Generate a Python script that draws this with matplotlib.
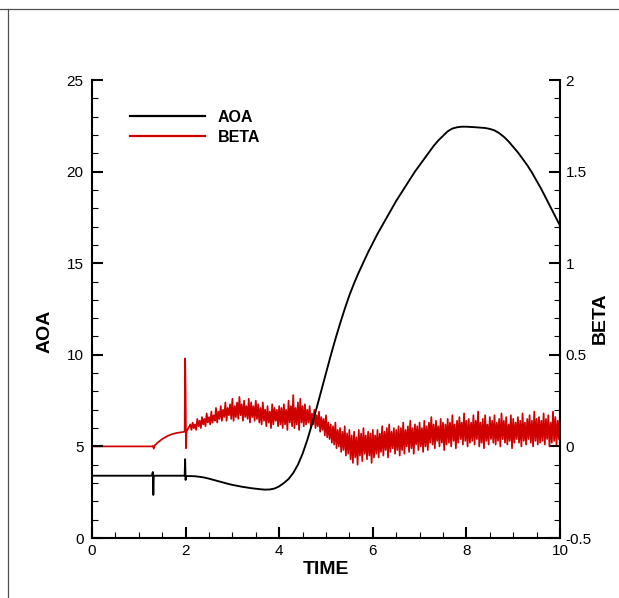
import matplotlib
matplotlib.use("Agg")
import matplotlib.pyplot as plt
from matplotlib.lines import Line2D
from matplotlib.ticker import MultipleLocator

plt.rcParams['font.family'] = ['Liberation Sans', 'DejaVu Sans']

# ---- AOA (left axis) ----
aoa_t = [0.0, 1.28, 1.30, 1.31, 1.32, 1.98, 1.99, 2.00, 2.01,
         2.1, 2.2, 2.3, 2.4, 2.5, 2.6, 2.7, 2.8, 2.9, 3.0,
         3.1, 3.2, 3.3, 3.4, 3.5, 3.6, 3.7, 3.8, 3.9, 4.0,
         4.1, 4.2, 4.3, 4.4, 4.5, 4.6, 4.7, 4.8, 4.9, 5.0,
         5.1, 5.2, 5.3, 5.4, 5.5, 5.6, 5.7, 5.8, 5.9, 6.0,
         6.1, 6.2, 6.3, 6.4, 6.5, 6.6, 6.7, 6.8, 6.9, 7.0,
         7.1, 7.2, 7.3, 7.4, 7.5, 7.6, 7.7, 7.8, 7.9, 8.0,
         8.2, 8.4, 8.5, 8.6, 8.7, 8.8, 8.9, 9.0,
         9.1, 9.2, 9.3, 9.4, 9.5, 9.6, 9.7, 9.8, 9.9, 10.0]
aoa_v = [3.40, 3.40, 3.60, 2.35, 3.40, 3.40, 4.30, 3.17, 3.38,
         3.38, 3.37, 3.34, 3.30, 3.24, 3.17, 3.10, 3.03, 2.96, 2.90,
         2.85, 2.80, 2.76, 2.72, 2.69, 2.66, 2.64, 2.65, 2.70, 2.82,
         3.00, 3.22, 3.55, 4.00, 4.60, 5.35, 6.20, 7.10, 8.05, 9.00,
         9.95, 10.85, 11.70, 12.50, 13.25, 13.90, 14.50, 15.05, 15.60, 16.10,
         16.60, 17.05, 17.50, 17.95, 18.40, 18.80, 19.20, 19.60, 20.00, 20.35,
         20.70, 21.05, 21.40, 21.70, 21.95, 22.20, 22.35, 22.42, 22.45, 22.45,
         22.42, 22.38, 22.33, 22.25, 22.10, 21.90, 21.65, 21.35,
         21.05, 20.70, 20.35, 19.95, 19.50, 19.05, 18.55, 18.05, 17.55, 17.05]

# ---- BETA (right axis): smooth start, then oscillating part ----
beta_t0 = [0.0, 1.28, 1.30, 1.32, 1.34, 1.40, 1.50, 1.60, 1.70, 1.80, 1.90, 1.98, 1.99,
           2.00, 2.01, 2.02, 2.06]
beta_v0 = [0.0, 0.0, 0.003, -0.012, 0.005, 0.02, 0.04, 0.055, 0.066, 0.073, 0.077, 0.080, 0.48,
           0.30, -0.01, 0.08, 0.10]

# peaks at t = 2.10, 2.15, ..., 10.05 ; each trough half a step later
beta_peaks = [0.12, 0.13, 0.12, 0.15, 0.14, 0.16, 0.15, 0.18, 0.16, 0.19,
              0.17, 0.21, 0.19, 0.22, 0.20, 0.24, 0.21, 0.23, 0.26, 0.22,
              0.24, 0.27, 0.23, 0.25, 0.22, 0.26, 0.24, 0.22, 0.25, 0.23,
              0.21, 0.24, 0.20, 0.22, 0.19, 0.23, 0.21, 0.20, 0.22, 0.21,
              0.23, 0.20, 0.25, 0.22, 0.28, 0.21, 0.24, 0.26, 0.22, 0.23,
              0.20, 0.22, 0.18, 0.20, 0.17, 0.19, 0.16, 0.15, 0.17, 0.13,
              0.12, 0.11, 0.13, 0.09, 0.10, 0.08, 0.11, 0.07, 0.09, 0.06,
              0.08, 0.05, 0.09, 0.07, 0.10, 0.06, 0.08, 0.07, 0.09, 0.06,
              0.09, 0.07, 0.11, 0.08, 0.10, 0.12, 0.08, 0.10, 0.09, 0.11,
              0.10, 0.13, 0.09, 0.11, 0.14, 0.10, 0.12, 0.11, 0.13, 0.10,
              0.14, 0.11, 0.13, 0.16, 0.12, 0.14, 0.11, 0.15, 0.13, 0.12,
              0.15, 0.13, 0.17, 0.12, 0.14, 0.16, 0.13, 0.18, 0.14, 0.15,
              0.13, 0.17, 0.14, 0.19, 0.13, 0.15, 0.17, 0.12, 0.16, 0.14,
              0.17, 0.13, 0.15, 0.18, 0.14, 0.16, 0.12, 0.17, 0.15, 0.13,
              0.16, 0.14, 0.18, 0.13, 0.15, 0.17, 0.14, 0.19, 0.15, 0.16,
              0.14, 0.18, 0.15, 0.17, 0.13, 0.19, 0.16, 0.14, 0.18, 0.15]
beta_troughs = [0.09, 0.10, 0.09, 0.11, 0.10, 0.12, 0.11, 0.13, 0.12, 0.13,
                0.14, 0.13, 0.15, 0.14, 0.16, 0.14, 0.17, 0.15, 0.14, 0.16,
                0.15, 0.17, 0.14, 0.16, 0.15, 0.13, 0.16, 0.14, 0.15, 0.13,
                0.12, 0.14, 0.11, 0.13, 0.10, 0.12, 0.14, 0.11, 0.12, 0.10,
                0.12, 0.09, 0.13, 0.11, 0.10, 0.12, 0.09, 0.13, 0.11, 0.12,
                0.13, 0.11, 0.12, 0.10, 0.11, 0.08, 0.09, 0.06, 0.05, 0.04,
                0.02, 0.01, -0.01, 0.00, -0.03, -0.02, -0.05, -0.04, -0.07, -0.09,
                -0.06, -0.10, -0.05, -0.08, -0.04, -0.07, -0.05, -0.09, -0.06, -0.04,
                -0.06, -0.03, -0.05, -0.02, -0.06, -0.03, -0.01, -0.04, -0.02, -0.05,
                -0.02, -0.04, 0.00, -0.03, -0.01, -0.04, 0.01, -0.02, 0.00, -0.03,
                0.00, -0.02, 0.02, 0.01, -0.01, 0.03, 0.00, 0.02, -0.02, 0.01,
                0.02, 0.00, 0.03, -0.01, 0.02, 0.04, 0.01, 0.03, 0.00, 0.02,
                0.03, 0.01, 0.04, 0.00, 0.02, -0.01, 0.03, 0.01, 0.04, 0.02,
                0.01, 0.03, 0.00, 0.04, 0.02, 0.01, 0.03, -0.01, 0.02, 0.04,
                0.02, 0.00, 0.03, 0.01, 0.04, 0.02, 0.00, 0.03, 0.01, 0.02,
                0.03, 0.01, 0.04, 0.00, 0.02, 0.03, 0.01, 0.04, 0.02, 0.03]
osc_start = 2.10
osc_step = 0.05

x_ticks = [0, 2, 4, 6, 8, 10]
aoa_ticks = [0, 5, 10, 15, 20, 25]
beta_ticks = [-0.5, 0, 0.5, 1, 1.5, 2]
beta_ticklabels = ['-0.5', '0', '0.5', '1', '1.5', '2']

# build the oscillating series from the peak/trough lists
osc_t, osc_v = [], []
for k, (p, q) in enumerate(zip(beta_peaks, beta_troughs)):
    tk = osc_start + k * osc_step
    osc_t += [tk, tk + osc_step / 2]
    osc_v += [p, q]
beta_t = beta_t0 + osc_t
beta_v = beta_v0 + osc_v

W, H = 619, 598
fig = plt.figure(figsize=(W / 100, H / 100), dpi=100)
ax = fig.add_axes([92 / W, 1 - 538 / H, (560 - 92) / W, (538 - 80) / H])
ax2 = ax.twinx()
ax.set_zorder(ax2.get_zorder() + 1)
ax.patch.set_visible(False)

red = '#d00000'
l2, = ax2.plot(beta_t, beta_v, color=red, lw=1.25, label='BETA')
l1, = ax.plot(aoa_t, aoa_v, color='black', lw=1.35, label='AOA')

ax.set_xlim(0, 10)
ax.set_ylim(0, 25)
ax2.set_ylim(-0.5, 2)

for s in ['top', 'right']:
    ax.spines[s].set_visible(False)
for s in ['top', 'left', 'bottom']:
    ax2.spines[s].set_visible(False)
ax.spines['left'].set_linewidth(1.5)
ax.spines['bottom'].set_linewidth(1.5)
ax2.spines['right'].set_linewidth(1.5)

ax.set_xticks(x_ticks)
ax.set_xticklabels([str(v) for v in x_ticks])
ax.xaxis.set_minor_locator(MultipleLocator(0.5))
ax.set_yticks(aoa_ticks)
ax.set_yticklabels([str(v) for v in aoa_ticks])
ax.yaxis.set_minor_locator(MultipleLocator(1))
ax2.set_yticks(beta_ticks)
ax2.set_yticklabels(beta_ticklabels)
ax2.yaxis.set_minor_locator(MultipleLocator(0.1))

ax.tick_params(which='major', direction='in', length=8, width=1.5, labelsize=11, pad=6,
               top=False, right=False)
ax.tick_params(which='minor', direction='in', length=4.5, width=0.8, top=False, right=False)
ax.tick_params(axis='x', which='major', pad=4)
ax2.tick_params(which='major', direction='in', length=8, width=1.5, labelsize=11, pad=4)
ax2.tick_params(which='minor', direction='in', length=4.5, width=0.8)

ax.set_xlabel('TIME', fontsize=14, fontweight='bold', ha='center', va='center')
ax.xaxis.set_label_coords(0.5, (538 - 570) / 458)
ax.set_ylabel('AOA', fontsize=14, fontweight='bold', ha='center', va='center')
ax.yaxis.set_label_coords((45 - 92) / 468, (538 - 331) / 458)
ax2.set_ylabel('BETA', fontsize=14, fontweight='bold', ha='center', va='center')
ax2.yaxis.set_label_coords((600 - 92) / 468, (538 - 318) / 458)

leg = ax.legend(handles=[l1, l2], loc='upper left',
                bbox_to_anchor=(122 / W, 1 - 102 / H), bbox_transform=fig.transFigure,
                frameon=False, prop={'weight': 'bold', 'size': 11.5},
                handlelength=4.7, handletextpad=0.8, labelspacing=0.3, borderpad=0)
for h in leg.get_lines():
    h.set_linewidth(1.6)

# outer frame lines
fig.add_artist(Line2D([0, 1], [1 - 8.5 / H, 1 - 8.5 / H], transform=fig.transFigure,
                      color='#505050', lw=0.9))
fig.add_artist(Line2D([7.5 / W, 7.5 / W], [0, 1 - 8.5 / H], transform=fig.transFigure,
                      color='#505050', lw=0.9))

fig.savefig('out.png', dpi=100)
